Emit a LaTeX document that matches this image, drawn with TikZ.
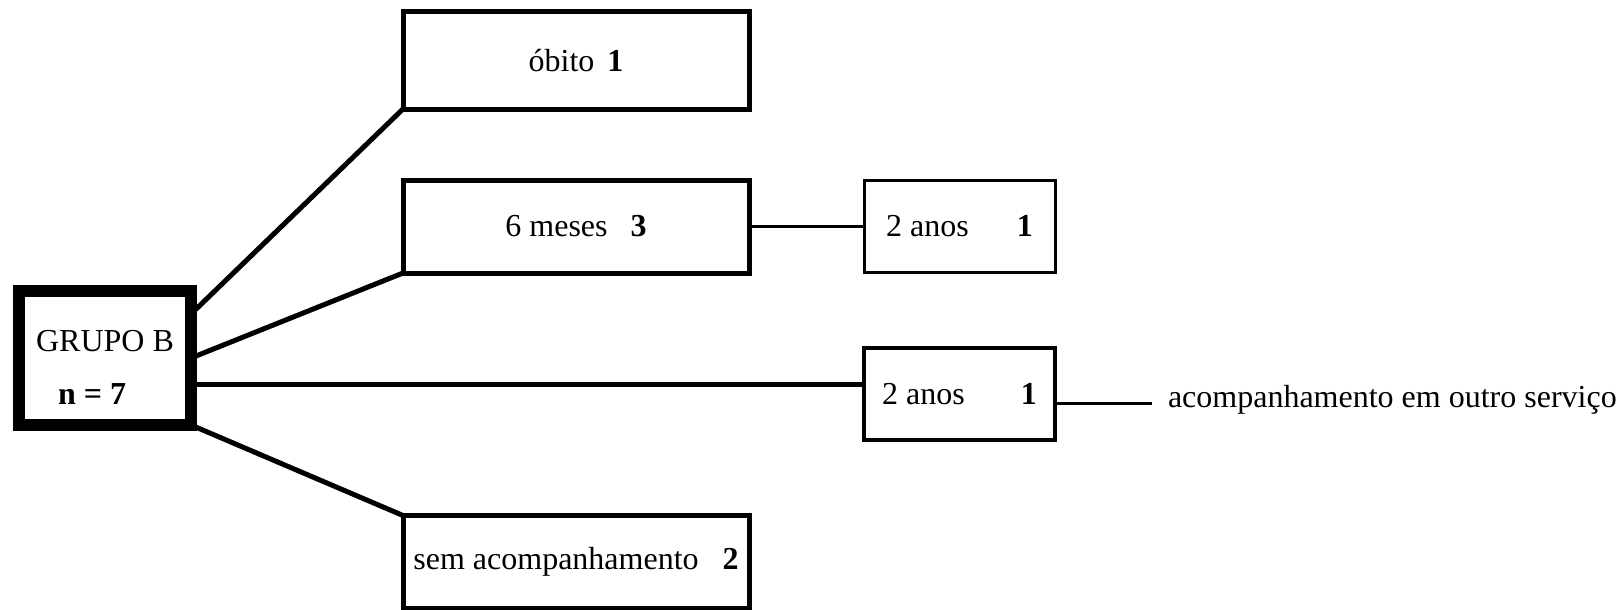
\documentclass[tikz,border=0pt]{standalone}
\usepackage{fontspec}
\setmainfont{Liberation Serif}

\begin{document}
\begin{tikzpicture}[
  x=1pt,y=-1pt,
  every node/.style={font=\fontsize{32}{53}\selectfont,inner sep=0pt,outer sep=0pt},
  box/.style={draw,line width=5pt,minimum width=346pt,minimum height=95pt},
  smallbox/.style={draw,minimum width=191pt,minimum height=92pt},
  link/.style={line width=5pt},
  thinlink/.style={line width=2.5pt}]
\useasboundingbox (0,0) rectangle (1624,610);
\node[draw,line width=12pt,minimum width=172pt,minimum height=134pt,align=left] (grupo) at (105,358) {\rule{0pt}{39pt}GRUPO B\\\hspace*{22pt}\textbf{n = 7}};
\node[box,minimum height=97pt] (obito) at (576,60.5) {óbito\hspace{13pt}\textbf{1}};
\node[box,minimum height=93pt] (meses) at (576,226.5) {6 meses\hspace{23pt}\textbf{3}};
\node[box,minimum height=93pt] (sem) at (576,562) {sem acompanhamento\hspace{24pt}\textbf{2}};
\node[smallbox,line width=3pt] (anos1) at (959.5,226.5) {2 anos\hspace{48pt}\textbf{1}};
\node[smallbox,line width=4.5pt] (anos2) at (959.5,394) {2 anos\hspace{56pt}\textbf{1}};
\node[anchor=base west,inner xsep=16pt] (outro) at (1152,407) {acompanhamento em outro serviço};
\coordinate (lowlink) at (0,384);
\coordinate (outlink) at (0,403.5);
% ramos do grupo
\draw[link] ([yshift=44pt]grupo.east) -- (obito.south west);
\draw[link] (grupo.east) -- (meses.south west);
\draw[link] (grupo.east |- lowlink) -- (anos2.west |- lowlink);
\draw[link] (grupo.south east) -- (sem.north west);
% seguimento
\draw[thinlink] (meses.east) -- (anos1.west);
\draw[line width=3pt] (anos2.east |- outlink) -- (outro.west |- outlink);
\end{tikzpicture}
\end{document}
